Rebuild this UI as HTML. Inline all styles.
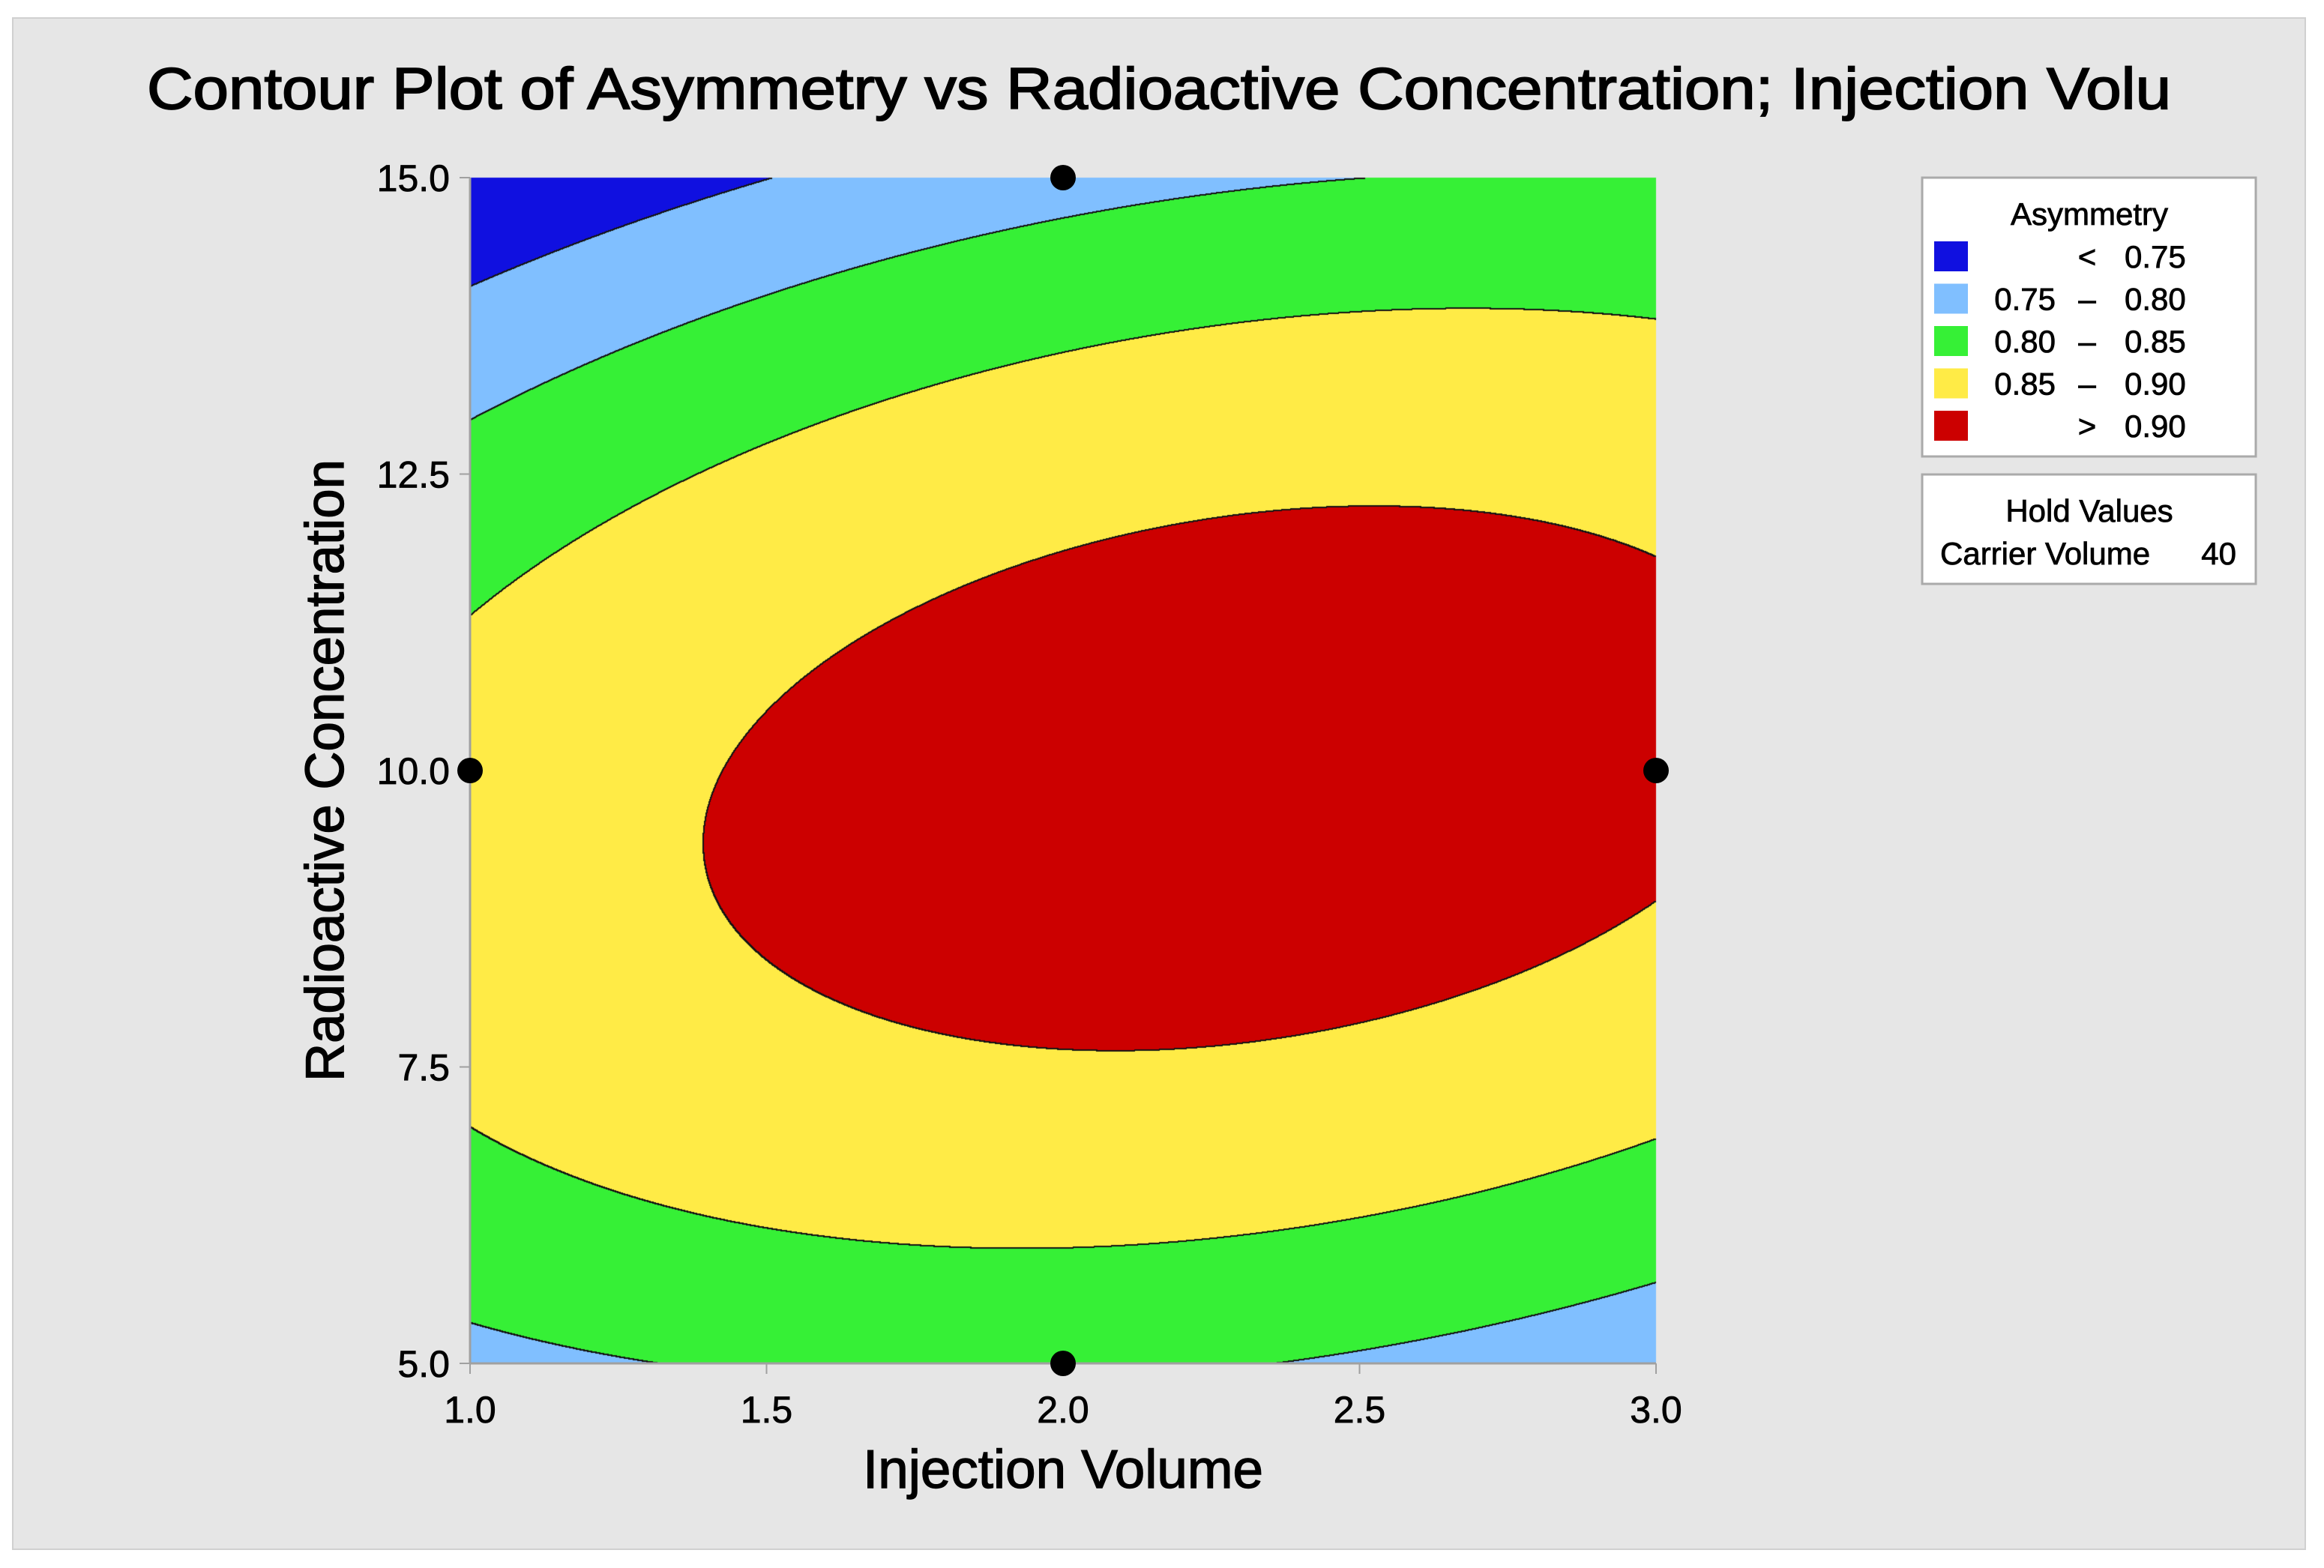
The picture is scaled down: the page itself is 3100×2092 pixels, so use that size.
<!DOCTYPE html>
<html><head><meta charset="utf-8"><style>
html,body{margin:0;padding:0;background:#fff;}
#wrap{position:relative;width:3100px;height:2092px;overflow:hidden;}
#cv{position:absolute;left:0;top:0;}
#sv{position:absolute;left:0;top:0;}
text{font-family:"Liberation Sans",sans-serif;fill:#000;stroke:#000;stroke-width:0.8px;}
</style></head><body>
<div id="wrap">
<svg id="bg" width="3100" height="2092" style="position:absolute;left:0;top:0">
<rect x="17" y="24" width="3058" height="2043" fill="#e6e6e6" stroke="#d0d0d0" stroke-width="2"/>
</svg>
<canvas id="cv" width="3100" height="2092"></canvas>
<svg id="sv" width="3100" height="2092">
<text x="196" y="145" font-size="78" style="stroke-width:1.8px" textLength="2700" lengthAdjust="spacingAndGlyphs">Contour Plot of Asymmetry vs Radioactive Concentration; Injection Volu</text>
<g id="axes"></g>
<g id="pts"></g>
<text x="1418" y="1985" font-size="72" style="stroke-width:1.4px" text-anchor="middle" textLength="534" lengthAdjust="spacingAndGlyphs">Injection Volume</text>
<text transform="translate(458,1028) rotate(-90)" font-size="72" style="stroke-width:1.4px" text-anchor="middle" textLength="830" lengthAdjust="spacingAndGlyphs">Radioactive Concentration</text>
<g>
<rect x="2564" y="237" width="445" height="372" fill="#fff" stroke="#aaa" stroke-width="3"/>
<text x="2787" y="300" font-size="42" text-anchor="middle">Asymmetry</text>
<g id="leg"></g>
<rect x="2564" y="633" width="445" height="146" fill="#fff" stroke="#aaa" stroke-width="3"/>
<text x="2787" y="696" font-size="42" text-anchor="middle">Hold Values</text>
<text x="2588" y="753" font-size="42">Carrier Volume</text>
<text x="2983" y="753" font-size="42" text-anchor="end">40</text>
</g>
</svg>
</div>
<script>
// Response-surface model coefficients (coded units u=x-2, v=(y-10)/5)
const coefNames = ["b0","bu","bv","buu","bvv","buv"];
const coefValues = [0.9221, 0.0201, -0.0127, -0.0321, -0.127, 0.0305];
const levels = [0.75, 0.80, 0.85, 0.90];
const levelColors = ["#1010e0","#80bfff","#36f036","#ffeb46","#cc0000"];
const legendLow = ["", "0.75", "0.80", "0.85", ""];
const legendSym = ["<", "–", "–", "–", ">"];
const legendHigh = ["0.75", "0.80", "0.85", "0.90", "0.90"];
const xTicks = [1.0, 1.5, 2.0, 2.5, 3.0];
const yTicks = [5.0, 7.5, 10.0, 12.5, 15.0];
const pointsX = [1, 2, 3, 2];
const pointsY = [10, 15, 10, 5];

const PL=627, PR=2209, PT=237, PB=1819;
const xMin=1, xMax=3, yMin=5, yMax=15;
const sx = x => PL + (x-xMin)/(xMax-xMin)*(PR-PL);
const sy = y => PB - (y-yMin)/(yMax-yMin)*(PB-PT);
const ix = px => xMin + (px-PL)/(PR-PL)*(xMax-xMin);
const iy = py => yMin + (PB-py)/(PB-PT)*(yMax-yMin);
function model(x,y){
  const u=x-2, v=(y-10)/5, c=coefValues;
  return c[0]+c[1]*u+c[2]*v+c[3]*u*u+c[4]*v*v+c[5]*u*v;
}
function hex(h){return [parseInt(h.slice(1,3),16),parseInt(h.slice(3,5),16),parseInt(h.slice(5,7),16)];}
const cols = levelColors.map(hex);
const cv=document.getElementById('cv'), ctx=cv.getContext('2d');
const W=PR-PL, H=PB-PT;
const lv=new Uint8Array(W*H);
for(let j=0;j<H;j++){const y=iy(PT+j+0.5);for(let i=0;i<W;i++){const f=model(ix(PL+i+0.5),y);let k=0;while(k<levels.length&&f>levels[k])k++;lv[j*W+i]=k;}}
const img=ctx.createImageData(W,H);
for(let p=0;p<W*H;p++){const c=cols[lv[p]];img.data[p*4]=c[0];img.data[p*4+1]=c[1];img.data[p*4+2]=c[2];img.data[p*4+3]=255;}
for(let j=1;j<H;j++)for(let i=1;i<W;i++){const p=j*W+i;if(lv[p]!==lv[p-1]||lv[p]!==lv[p-W]){for(const q of [p,p-1,p-W,p-W-1]){img.data[q*4]=20;img.data[q*4+1]=20;img.data[q*4+2]=20;}}}
ctx.putImageData(img,PL,PT);

const NS="http://www.w3.org/2000/svg";
function mk(tag,attrs,parent){const e=document.createElementNS(NS,tag);for(const k in attrs)e.setAttribute(k,attrs[k]);parent.appendChild(e);return e;}
const axes=document.getElementById('axes');
let e;
e=mk('line',{x1:PL,y1:PB,x2:PR,y2:PB,stroke:'#a0a0a0','stroke-width':3},axes);


e=mk('line',{x1:PL,y1:PT,x2:PL,y2:PB,stroke:'#a0a0a0','stroke-width':3},axes);


xTicks.forEach(t=>{
  e=mk('line',{x1:sx(t),y1:PB,x2:sx(t),y2:PB+14,stroke:'#a0a0a0','stroke-width':2},axes);
  
  
  e=mk('text',{x:sx(t),y:1898,'font-size':50,'text-anchor':'middle'},axes);
  e.textContent=t.toFixed(1);
  
  
});
yTicks.forEach(t=>{
  e=mk('line',{x1:PL-14,y1:sy(t),x2:PL,y2:sy(t),stroke:'#a0a0a0','stroke-width':2},axes);
  
  
  e=mk('text',{x:600,y:sy(t)+18,'font-size':50,'text-anchor':'end'},axes);
  e.textContent=t.toFixed(1);
  
  
});
const pts=document.getElementById('pts');
pointsX.forEach((x,i)=>{
  e=mk('circle',{cx:sx(x),cy:sy(pointsY[i]),r:17,fill:'#000'},pts);
  
  
});
const leg=document.getElementById('leg');
levelColors.forEach((c,i)=>{
  const cy=342+i*56.5;
  e=mk('rect',{x:2580,y:cy-20,width:45,height:40,fill:c},leg);
  
  
  e=mk('text',{x:2742,y:cy+15,'font-size':42,'text-anchor':'end'},leg);
  e.textContent=legendLow[i];
  
  
  e=mk('text',{x:2784,y:cy+15,'font-size':42,'text-anchor':'middle'},leg);
  e.textContent=legendSym[i];
  
  
  e=mk('text',{x:2834,y:cy+15,'font-size':42},leg);
  e.textContent=legendHigh[i];
  
  
});
</script>
</body></html>
